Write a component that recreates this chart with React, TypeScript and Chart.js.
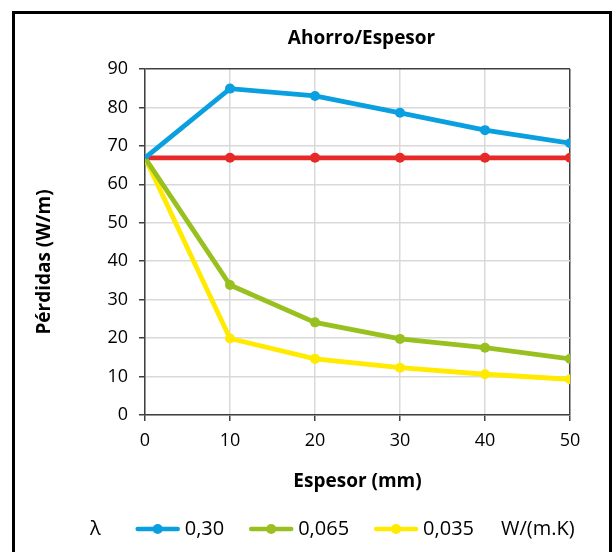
import React, { useEffect, useRef } from "react";
import { Chart, registerables } from "chart.js";

Chart.register(...registerables);

// ---- data ----
const espesores = [0, 10, 20, 30, 40, 50];
const perdidasLambda030 = [66.9, 84.9, 83.0, 78.6, 74.1, 70.7];
const perdidasLambda0065 = [66.9, 33.8, 24.1, 19.8, 17.5, 14.6];
const perdidasLambda0035 = [66.9, 19.9, 14.6, 12.3, 10.6, 9.3];
const perdidasSinAislar = [66.9, 66.9, 66.9, 66.9, 66.9, 66.9];
const legendLabels = ["0,30", "0,065", "0,035"];

const FONT = '"Open Sans", sans-serif';
const BLUE = "#0aa0e0";
const GREEN = "#98c11f";
const YELLOW = "#ffea00";
const RED = "#e52a28";
const AXIS = "#404040";
const GRID = "#d9d9d9";

const toPoints = (ys: number[]) => espesores.map((x, i) => ({ x, y: ys[i] }));

const textPlugin = {
  id: "extraTexts",
  afterDraw(chart: any) {
    const { ctx, chartArea } = chart;
    ctx.save();
    ctx.fillStyle = "#000";
    ctx.textBaseline = "middle";
    // title
    ctx.font = `bold 19px ${FONT}`;
    ctx.textAlign = "center";
    ctx.fillText("Ahorro/Espesor", (chartArea.left + chartArea.right) / 2 + 4, 25);
    // y axis title
    ctx.save();
    ctx.translate(30, (chartArea.top + chartArea.bottom) / 2 + 20);
    ctx.rotate(-Math.PI / 2);
    ctx.fillText("Pérdidas (W/m)", 0, 0);
    ctx.restore();
    // legend
    const y = 515;
    ctx.font = `20px ${FONT}`;
    ctx.textAlign = "left";
    let x = 75;
    ctx.fillText("λ", x, y);
    x += ctx.measureText("λ").width + 37;
    const ds = chart.data.datasets;
    for (let i = 0; i < legendLabels.length; i++) {
      const color = ds[i].borderColor;
      ctx.strokeStyle = color;
      ctx.lineWidth = 4.5;
      ctx.lineCap = "round";
      ctx.beginPath();
      ctx.moveTo(x, y);
      ctx.lineTo(x + 40, y);
      ctx.stroke();
      ctx.fillStyle = color;
      ctx.beginPath();
      ctx.arc(x + 20, y, 5, 0, Math.PI * 2);
      ctx.fill();
      x += 47;
      ctx.fillStyle = "#000";
      ctx.fillText(legendLabels[i], x, y);
      x += ctx.measureText(legendLabels[i]).width + 27;
    }
    ctx.fillText("W/(m.K)", x, y);
    ctx.restore();
  },
};

export default function App() {
  const ref = useRef<HTMLCanvasElement | null>(null);
  useEffect(() => {
    if (!ref.current) return;
    const chart = new Chart(ref.current, {
      type: "line",
      data: {
        datasets: [
          {
            label: legendLabels[0],
            data: toPoints(perdidasLambda030),
            borderColor: BLUE,
            backgroundColor: BLUE,
          },
          {
            label: legendLabels[1],
            data: toPoints(perdidasLambda0065),
            borderColor: GREEN,
            backgroundColor: GREEN,
          },
          {
            label: legendLabels[2],
            data: toPoints(perdidasLambda0035),
            borderColor: YELLOW,
            backgroundColor: YELLOW,
          },
          {
            label: "sin aislar",
            data: toPoints(perdidasSinAislar),
            borderColor: RED,
            backgroundColor: RED,
          },
        ].map((d) => ({
          ...d,
          borderWidth: 4.8,
          pointRadius: [0, 5, 5, 5, 5, 5],
          pointBorderWidth: 0,
          pointBackgroundColor: d.borderColor,
          tension: 0,
          fill: false,
        })),
      },
      options: {
        responsive: false,
        devicePixelRatio: 1,
        animation: false,
        layout: { padding: { left: 0, top: 55, right: 39, bottom: 47 } },
        plugins: {
          legend: { display: false },
          title: { display: false },
          tooltip: { enabled: false },
        },
        scales: {
          x: {
            type: "linear",
            min: 0,
            max: 50,
            ticks: { stepSize: 10, color: "#000", font: { family: FONT, size: 18 }, padding: 9 },
            grid: {
              color: (c: any) => (c.tick && c.tick.value === 50 ? AXIS : GRID),
              lineWidth: 1.5,
              tickLength: 6,
              tickColor: AXIS,
            },
            border: { color: AXIS, width: 1.5 },
            title: {
              display: true,
              text: "Espesor (mm)",
              color: "#000",
              font: { family: FONT, size: 19, weight: "bold" },
              padding: { top: 0, bottom: 12 },
            },
            afterFit: (s: any) => {
              s.height = 90;
            },
          },
          y: {
            min: 0,
            max: 90,
            ticks: { stepSize: 10, color: "#000", font: { family: FONT, size: 18 }, padding: 11 },
            grid: {
              color: (c: any) => (c.tick && c.tick.value === 90 ? AXIS : GRID),
              lineWidth: 1.5,
              tickLength: 6,
              tickColor: AXIS,
            },
            border: { color: AXIS, width: 1.5 },
            afterFit: (s: any) => {
              s.width = 130;
            },
          },
        },
      },
      plugins: [textPlugin],
    } as any);
    return () => chart.destroy();
  }, []);
  return (
    <div
      style={{
        position: "fixed",
        left: 12,
        top: 11,
        width: 600,
        height: 600,
        border: "3px solid #000",
        boxSizing: "border-box",
        background: "#fff",
      }}
    >
      <canvas ref={ref} width={594} height={538} style={{ display: "block" }} />
    </div>
  );
}
